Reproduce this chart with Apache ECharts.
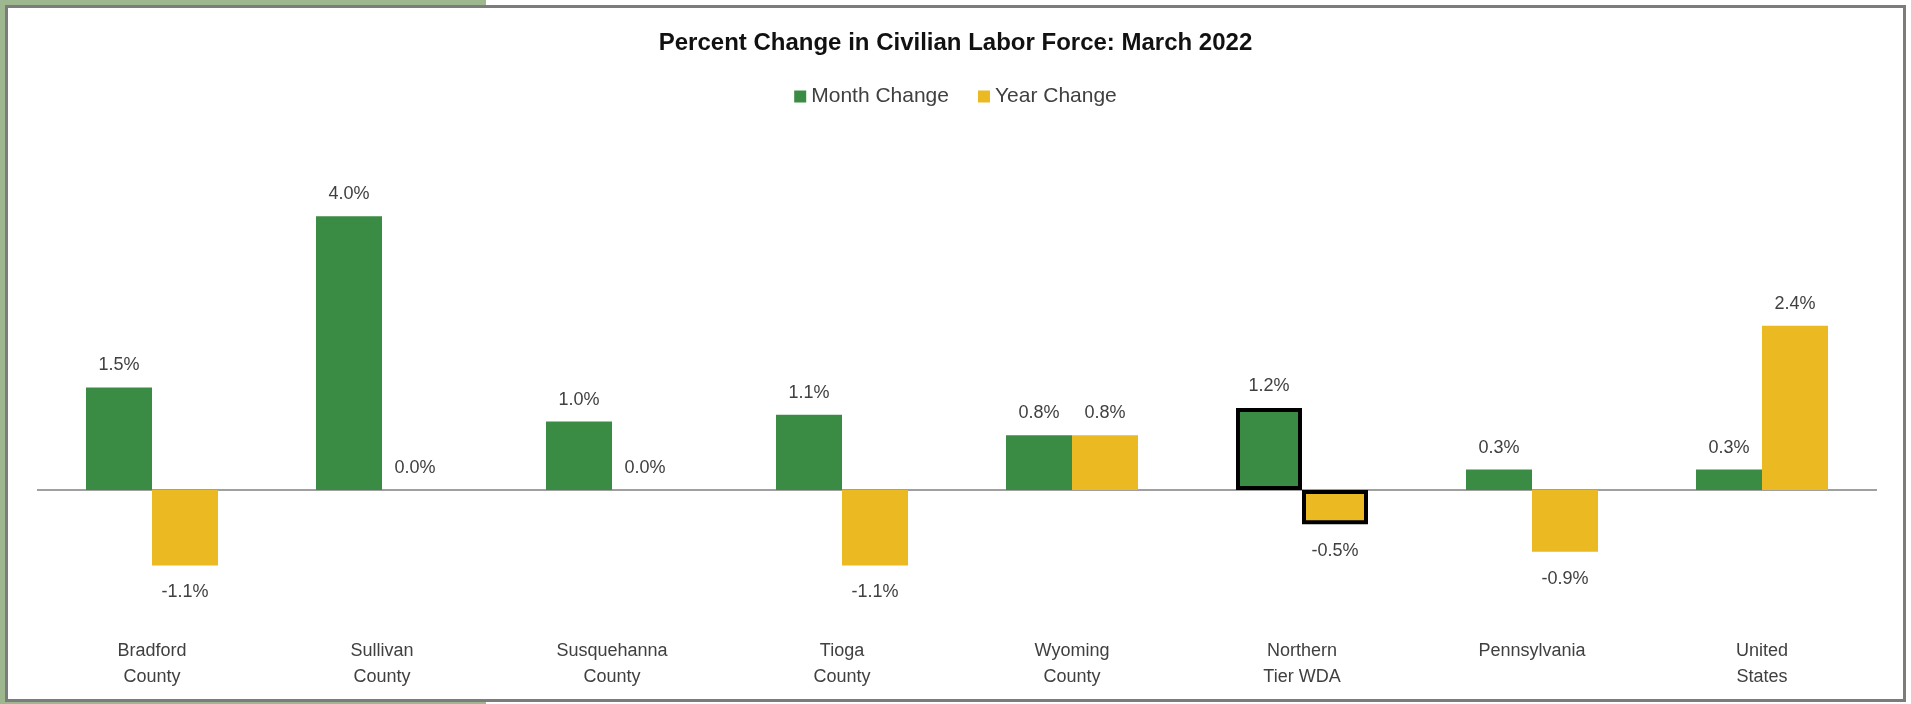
<!DOCTYPE html>
<html>
<head>
<meta charset="utf-8">
<script src="https://cdn.jsdelivr.net/npm/echarts@6/dist/echarts.min.js"></script>
<style>
  html, body { margin: 0; padding: 0; background: #ffffff; }
  #chart { width: 1911px; height: 704px; }
</style>
</head>
<body>
<div id="chart"></div>
<script>
const categories = [
  'Bradford\nCounty', 'Sullivan\nCounty', 'Susquehanna\nCounty', 'Tioga\nCounty',
  'Wyoming\nCounty', 'Northern\nTier WDA', 'Pennsylvania', 'United\nStates'
];
const monthChange = [1.5, 4.0, 1.0, 1.1, 0.8, 1.2, 0.3, 0.3];
const yearChange = [-1.1, 0.0, 0.0, -1.1, 0.8, -0.5, -0.9, 2.4];
const seriesNames = ['Month Change', 'Year Change'];
const highlightCategory = 'Northern\nTier WDA';
const titleText = 'Percent Change in Civilian Labor Force: March 2022';

const GREEN = '#3a8b43';
const YELLOW = '#ebb921';
const FONT = '"Liberation Sans", Arial, sans-serif';

function buildData(values) {
  return values.map((v, i) => {
    const item = {
      value: v,
      label: { position: v >= 0 ? 'top' : 'bottom', distance: v >= 0 ? 13 : 18 }
    };
    if (categories[i] === highlightCategory) {
      item.itemStyle = { borderColor: '#000000', borderWidth: 4 };
    }
    return item;
  });
}

const labelCfg = {
  show: true,
  fontFamily: FONT,
  fontSize: 18,
  color: '#404040',
  formatter: p => p.value.toFixed(1) + '%'
};

const chart = echarts.init(document.getElementById('chart'), null, { renderer: 'canvas' });
chart.setOption({
  animation: false,
  backgroundColor: 'transparent',
  graphic: [
    { type: 'rect', z: -10, shape: { x: 0, y: 0, width: 486, height: 704 }, style: { fill: '#9db78e' } },
    { type: 'rect', z: -9, shape: { x: 6.5, y: 6.5, width: 1898, height: 694 },
      style: { fill: '#ffffff', stroke: '#7c7c7c', lineWidth: 3 } }
  ],
  title: {
    text: titleText,
    left: 'center',
    top: 26,
    textStyle: { fontFamily: FONT, fontSize: 24, fontWeight: 'bold', color: '#111111' }
  },
  legend: {
    top: 81,
    left: 'center',
    itemWidth: 12,
    itemHeight: 12,
    itemGap: 29,
    icon: 'rect',
    textStyle: { fontFamily: FONT, fontSize: 21, color: '#404040' },
    data: seriesNames
  },
  grid: { left: 37, right: 34, top: 182, height: 445, containLabel: false },
  xAxis: {
    type: 'category',
    data: categories,
    axisLine: { show: false, onZero: false },
    axisTick: { show: false },
    axisLabel: { margin: 11, fontFamily: FONT, fontSize: 18, lineHeight: 26, color: '#404040', interval: 0 }
  },
  yAxis: {
    type: 'value',
    min: -2, max: 4.5, interval: 0.5,
    show: false,
    splitLine: { show: false }
  },
  series: [
    {
      name: seriesNames[0],
      type: 'bar',
      barWidth: 66,
      barGap: '0%',
      itemStyle: { color: GREEN },
      label: labelCfg,
      data: buildData(monthChange),
      markLine: {
        silent: true,
        symbol: 'none',
        label: { show: false },
        lineStyle: { color: '#a0a0a0', width: 2, type: 'solid' },
        data: [{ yAxis: 0 }],
        z: 1
      },
      z: 3
    },
    {
      name: seriesNames[1],
      type: 'bar',
      barWidth: 66,
      barGap: '0%',
      itemStyle: { color: YELLOW },
      label: labelCfg,
      data: buildData(yearChange),
      z: 3
    }
  ]
});
</script>
</body>
</html>
